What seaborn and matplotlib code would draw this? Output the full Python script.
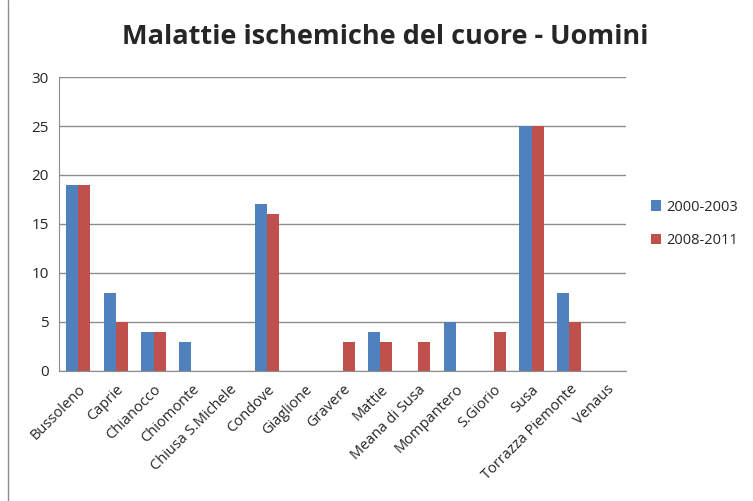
import matplotlib
matplotlib.use('Agg')
import matplotlib.pyplot as plt
import seaborn as sns
import pandas as pd
import numpy as np

# comuni and values for the two periods
comuni = ['Bussoleno', 'Caprie', 'Chianocco', 'Chiomonte', 'Chiusa S.Michele',
          'Condove', 'Giaglione', 'Gravere', 'Mattie', 'Meana di Susa',
          'Mompantero', 'S.Giorio', 'Susa', 'Torrazza Piemonte', 'Venaus']
periodi = ['2000-2003', '2008-2011']
val_2000 = [19, 8, 4, 3, 0, 17, 0, 0, 4, 0, 5, 0, 25, 8, 0]
val_2008 = [19, 5, 4, 0, 0, 16, 0, 3, 3, 3, 0, 4, 25, 5, 0]

df = pd.DataFrame({
    'Comune': comuni * 2,
    'Periodo': [periodi[0]] * len(comuni) + [periodi[1]] * len(comuni),
    'Valore': val_2000 + val_2008,
})

sns.set_style('white')
plt.rcParams['font.family'] = ['Open Sans', 'DejaVu Sans']

fig = plt.figure(figsize=(7.53, 5.01), dpi=100)
ax = fig.add_axes([0.0784, 0.2595, 0.753, 0.5868])

sns.barplot(data=df, x='Comune', y='Valore', hue='Periodo', order=comuni,
            hue_order=periodi, palette=['#4F81BD', '#C0504D'], width=0.64,
            saturation=1, linewidth=0, ax=ax, legend=True)

ax.set_ylim(0, 30)
ax.set_xlim(-0.5, len(comuni) - 0.5)
ax.set_yticks(range(0, 31, 5))
ax.yaxis.grid(True, color='#8c8c8c', linewidth=1)
ax.set_axisbelow(True)
ax.set_xlabel('')
ax.set_ylabel('')

for s in ['top', 'right']:
    ax.spines[s].set_visible(False)
ax.spines['left'].set_color('#8c8c8c')
ax.spines['bottom'].set_color('#8c8c8c')

# tick marks between categories
ax.set_xticks(np.arange(len(comuni)))
ax.set_xticklabels(comuni, rotation=45, ha='right', rotation_mode='anchor', fontsize=10.5)
ax.set_xticks(np.arange(-0.5, len(comuni)), minor=True)
ax.tick_params(axis='x', which='major', length=0, pad=8)
ax.tick_params(axis='x', which='minor', length=4, color='#8c8c8c', direction='out')
ax.tick_params(axis='y', length=4, color='#8c8c8c', direction='out', labelsize=11)

ax.legend(loc='center left', bbox_to_anchor=(1.02, 0.5), frameon=False,
          fontsize=10.5, handlelength=0.7, handleheight=0.7, labelspacing=1.3,
          handletextpad=0.4)

fig.text(0.512, 0.926, 'Malattie ischemiche del cuore - Uomini', ha='center',
         va='center', fontsize=19.5, fontweight='bold')

# frame of the chart area
fig.add_artist(plt.Line2D([0.011, 0.011], [0, 1], color='#8c8c8c', linewidth=1,
                          transform=fig.transFigure))

fig.savefig('out.png', dpi=100)
